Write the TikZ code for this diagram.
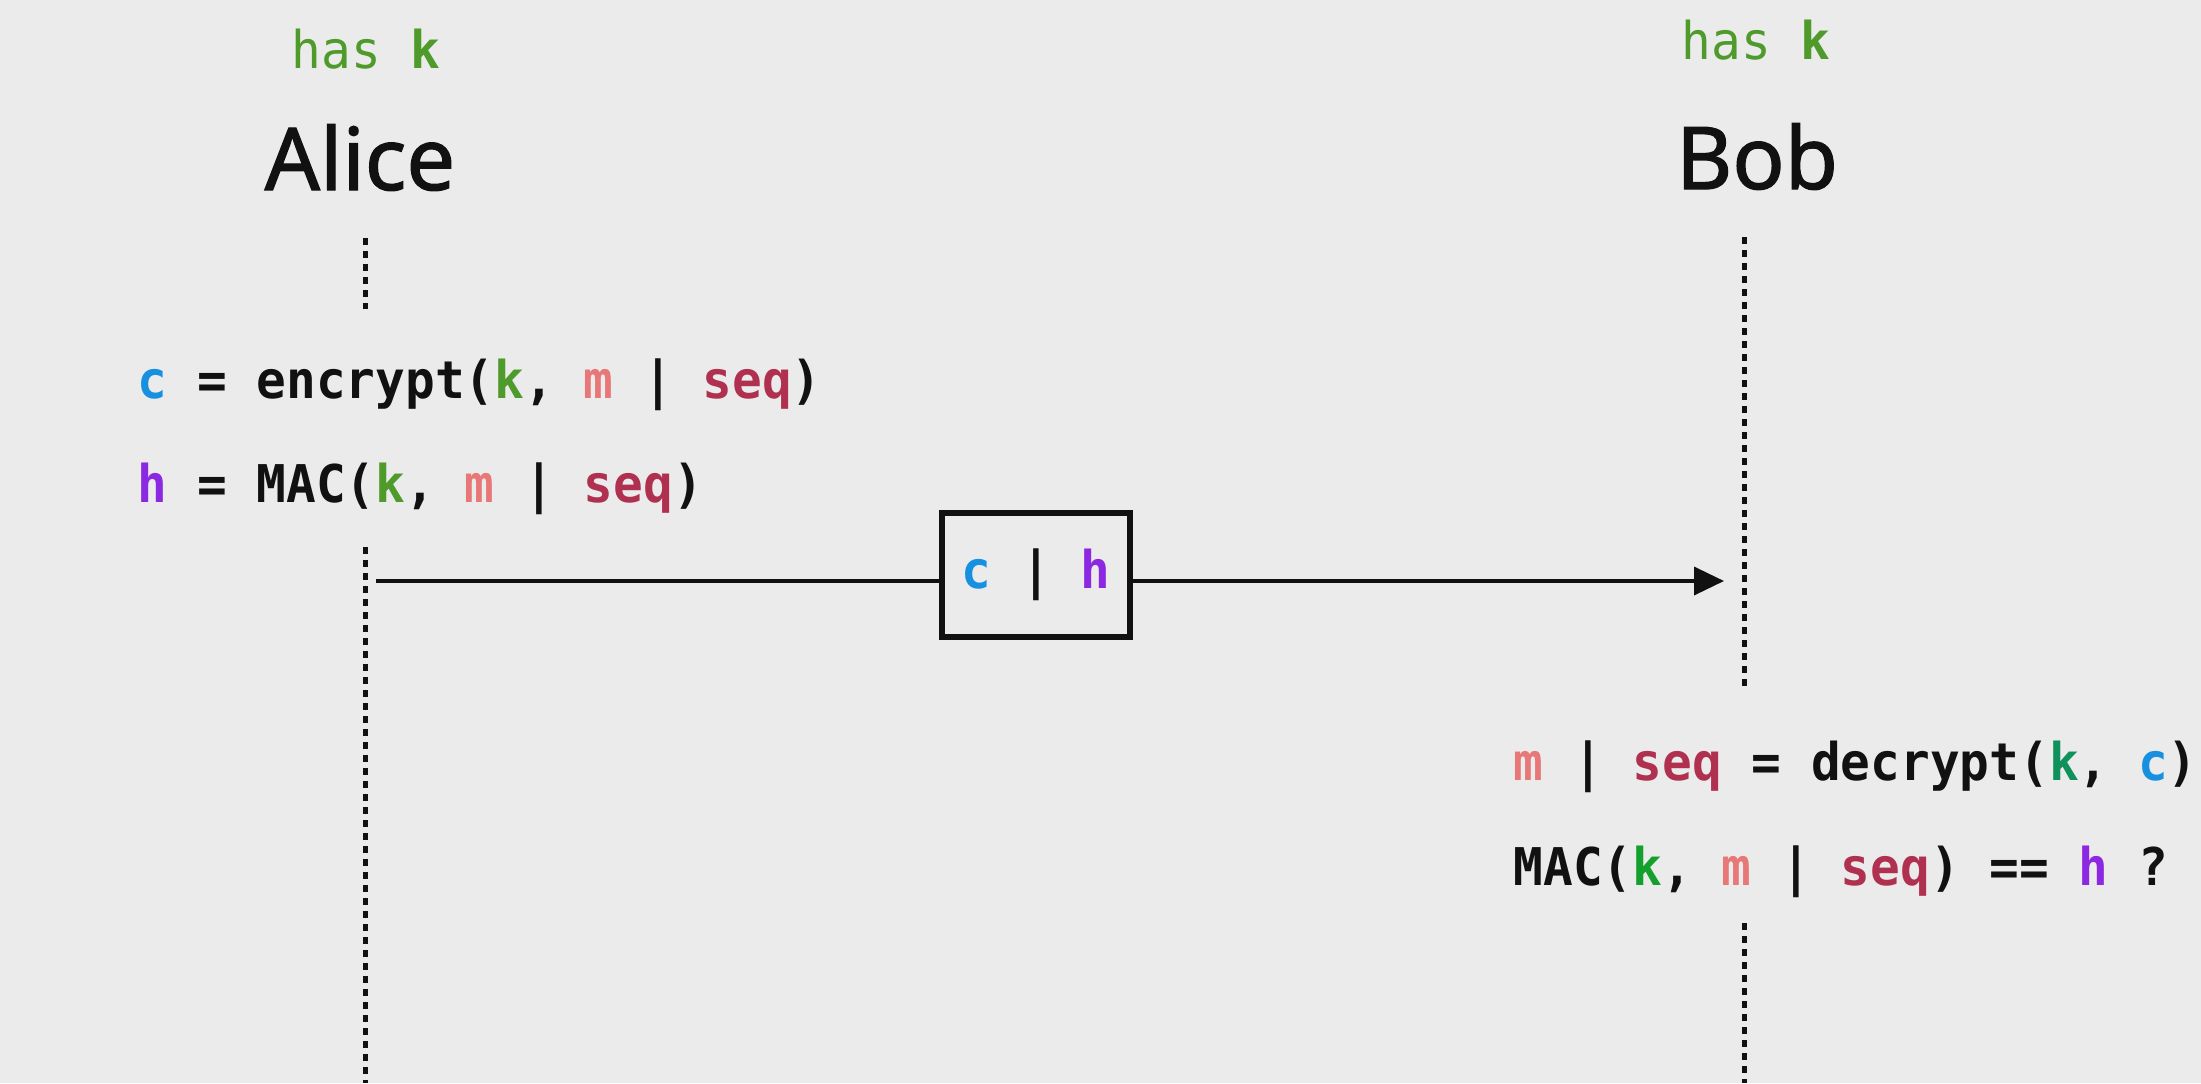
\documentclass[tikz,border=0pt]{standalone}
\usepackage{fontspec}
\setmainfont{Noto Sans}
\newfontfamily\partyfont[FakeBold=1.4]{Noto Sans}
\newfontfamily\codefont[FakeStretch=0.95]{DejaVu Sans Mono}
\usetikzlibrary{arrows.meta}
\frenchspacing
\definecolor{paper}{HTML}{EBEBEB}
\definecolor{ink}{HTML}{111111}
\definecolor{keyg}{HTML}{4E9A2A}
\definecolor{keyt}{HTML}{10905A}
\definecolor{keyb}{HTML}{14A02C}
\definecolor{cblue}{HTML}{1890E0}
\definecolor{mpink}{HTML}{E87878}
\definecolor{seqred}{HTML}{B03050}
\definecolor{hpurple}{HTML}{8C28E2}
\newcommand{\cc}{{\color{cblue}c}}
\newcommand{\kk}[1][keyg]{{\color{#1}k}}
\newcommand{\mm}{{\color{mpink}m}}
\newcommand{\sq}{{\color{seqred}seq}}
\newcommand{\hh}{{\color{hpurple}h}}
\tikzset{
  party/.style={font=\partyfont\fontsize{26}{30}\selectfont, text=ink, inner sep=0pt, anchor=base},
  haskey/.style={font=\codefont\fontsize{15.6}{18}\selectfont, text=keyg, inner sep=0pt, anchor=base},
  calc/.style={font=\codefont\bfseries\fontsize{15.6}{18}\selectfont, text=ink, inner sep=0pt, anchor=base west},
  lifeline/.style={ink, line width=1.5pt, dash pattern=on 2.1pt off 1.8pt},
  msgbox/.style={draw=ink, line width=1.6pt, fill=paper, inner sep=0pt, minimum width=56.4pt, minimum height=37.2pt,
    font=\codefont\bfseries\fontsize{15.6}{18}\selectfont, text=ink},
}
\begin{document}
\begin{tikzpicture}[x=0.3pt,y=-0.3pt]
\fill[paper] (0,0) rectangle (2201,1083);
\useasboundingbox (0,0) rectangle (2201,1083);

% the two parties
\node[haskey] (akey) at (366,68) {has {\bfseries k}};
\node[party] (alice) at (360,190) {Alice};
\node[haskey] (bkey) at (1756,59) {has {\bfseries k}};
\node[party] (bob) at (1757,189) {Bob};

% lifelines
\coordinate (a1) at (365,238);
\coordinate (a2) at (365,309);
\coordinate (a3) at (365,547);
\coordinate (a4) at (365,1083);
\coordinate (b1) at (1744,237);
\coordinate (b2) at (1744,690);
\coordinate (b3) at (1744,923);
\coordinate (b4) at (1744,1083);
\draw[lifeline] (a1) -- (a2);
\draw[lifeline] (a3) -- (a4);
\draw[lifeline] (b1) -- (b2);
\draw[lifeline] (b3) -- (b4);

% Alice side
\node[calc] (enc) at (137,398) {\cc{} = encrypt(\kk, \mm{} | \sq)};
\node[calc] (mac) at (137,502) {\hh{} = MAC(\kk, \mm{} | \sq)};

% message
\coordinate (send) at (376,581);
\coordinate (recv) at (1724,581);
\node[msgbox] (msg) at (1036,575) {\cc{} | \hh};
\draw[ink, line width=1.1pt] (send) -- (send -| msg.west);
\draw[ink, line width=1.1pt, -{Triangle[length=9pt,width=8.4pt]}] (send -| msg.east) -- (recv);

% Bob side
\node[calc] (dec) at (1513,780) {\mm{} | \sq{} = decrypt(\kk[keyt], \cc)};
\node[calc] (chk) at (1513,885) {MAC(\kk[keyb], \mm{} | \sq) == \hh{} ?};
\end{tikzpicture}
\end{document}
